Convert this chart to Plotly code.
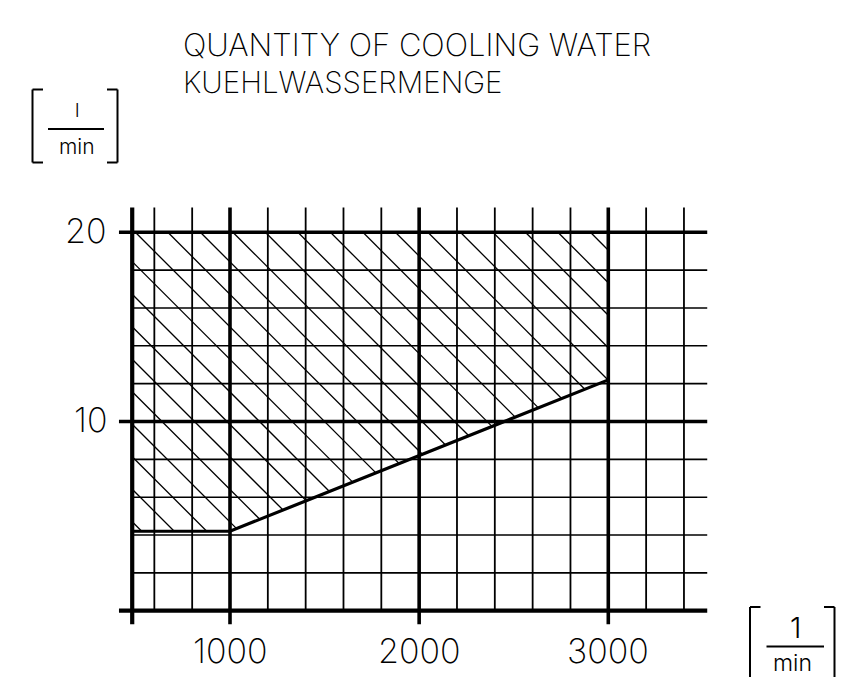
import plotly.graph_objects as go

# ---------------- data ----------------
title_lines = ["QUANTITY OF COOLING WATER", "KUEHLWASSERMENGE"]
y_unit = ["l", "min"]
x_unit = ["1", "min"]

x_major = [1000, 2000, 3000]
x_minor = [600, 800, 1200, 1400, 1600, 1800, 2200, 2400, 2600, 2800, 3200, 3400]
y_major = [0, 10, 20]
y_minor = [2, 4, 6, 8, 12, 14, 16, 18]

x_tick_vals = [1000, 2000, 3000]
x_tick_text = ["1000", "2000", "3000"]
y_tick_vals = [10, 20]
y_tick_text = ["10", "20"]

# boundary of the permissible (hatched) range
curve_x = [483, 1000, 3000]
curve_y = [4.2, 4.2, 12.2]
hatch_top = 20

# axis extents
x_axis_start = 483
grid_right = 3523
tick_left = 413
grid_top = 21.31
tick_bottom = -0.72

# ---------------- layout geometry ----------------
W, H = 861, 677
SX = (608.3 - 230.0) / 2000.0      # px per x unit
SY = (610.7 - 232.3) / 20.0        # px per y unit
X0 = 1000 - 230.0 / SX
X1 = X0 + W / SX
Y1 = 610.7 / SY
Y0 = Y1 - H / SY


def px2x(px):
    return X0 + px / SX


def py2y(py):
    return Y1 - py / SY


fig = go.Figure()


def add_segments(segs, width):
    xs, ys = [], []
    for (xa, ya), (xb, yb) in segs:
        xs += [xa, xb, None]
        ys += [ya, yb, None]
    fig.add_trace(go.Scatter(x=xs, y=ys, mode="lines",
                             line=dict(color="black", width=width),
                             hoverinfo="skip", showlegend=False))


# ---------------- hatching ----------------
poly = [(curve_x[0], curve_y[0]), (curve_x[1], curve_y[1]), (curve_x[2], curve_y[2]),
        (curve_x[2], hatch_top), (curve_x[0], hatch_top)]
m = -SX / SY  # 45 degrees on screen
hatch_segs = []
for k in range(-4, 26):
    c = 8.14 + k * 1.718

    def f(p):
        return p[1] - m * (p[0] - x_axis_start) - c

    pts = []
    for i in range(len(poly)):
        p, q = poly[i], poly[(i + 1) % len(poly)]
        fp, fq = f(p), f(q)
        if fp == fq:
            continue
        t = fp / (fp - fq)
        if 0 <= t <= 1:
            pts.append(p[0] + t * (q[0] - p[0]))
    if len(pts) >= 2:
        xa, xb = min(pts), max(pts)
        if xb - xa > 1e-6:
            ya = c + m * (xa - x_axis_start)
            yb = c + m * (xb - x_axis_start)
            hatch_segs.append(((xa, ya), (xb, yb)))
add_segments(hatch_segs, 1.3)

# ---------------- grid ----------------
add_segments([((x, 0), (x, grid_top)) for x in x_minor], 1.8)
add_segments([((x_axis_start, y), (grid_right, y)) for y in y_minor], 1.6)
add_segments([((x, tick_bottom), (x, grid_top)) for x in x_major], 3.6)
add_segments([((tick_left, y), (grid_right, y)) for y in y_major if y != 0], 3.4)
add_segments([((tick_left, 0), (grid_right, 0))], 4.2)
add_segments([((x_axis_start, tick_bottom), (x_axis_start, grid_top))], 4.2)

# ---------------- curve ----------------
fig.add_trace(go.Scatter(x=curve_x, y=curve_y, mode="lines",
                         line=dict(color="black", width=3.2),
                         hoverinfo="skip", showlegend=False))

# ---------------- text ----------------
FONT = "Inter, Roboto, Liberation Sans, sans-serif"
ann = []
digit_font = dict(family=FONT, size=34, color="black", weight=200)
for v, t in zip(x_tick_vals, x_tick_text):
    ann.append(dict(x=v, y=0, text=t, showarrow=False, xanchor="center",
                    yanchor="middle", yshift=-40, font=digit_font))
for v, t in zip(y_tick_vals, y_tick_text):
    ann.append(dict(x=tick_left, y=v, text=t, showarrow=False, xanchor="right",
                    yanchor="middle", xshift=-10, yshift=2, font=digit_font))

ann.append(dict(x=px2x(181), y=py2y(44), text=title_lines[0], showarrow=False,
                xanchor="left", yanchor="middle",
                font=dict(family=FONT, size=31, color="black", weight=200)))
ann.append(dict(x=px2x(181), y=py2y(82), text=title_lines[1], showarrow=False,
                xanchor="left", yanchor="middle",
                font=dict(family=FONT, size=29.5, color="black", weight=200)))

unit_font = dict(family=FONT, color="black", weight=300)
ann.append(dict(x=px2x(77), y=py2y(110), text=y_unit[0], showarrow=False,
                xanchor="center", yanchor="middle", font=dict(unit_font, size=19)))
ann.append(dict(x=px2x(77), y=py2y(146), text=y_unit[1], showarrow=False,
                xanchor="center", yanchor="middle", font=dict(unit_font, size=21)))
ann.append(dict(x=px2x(795), y=py2y(627), text=x_unit[0], showarrow=False,
                xanchor="center", yanchor="middle", font=dict(unit_font, size=29)))
ann.append(dict(x=px2x(792), y=py2y(663), text=x_unit[1], showarrow=False,
                xanchor="center", yanchor="middle", font=dict(unit_font, size=23)))

# brackets and fraction bars
def seg_shape(xa, ya, xb, yb, w=2):
    return dict(type="line", xref="x", yref="y", x0=px2x(xa), y0=py2y(ya),
                x1=px2x(xb), y1=py2y(yb), line=dict(color="black", width=w))


shapes = []
# left unit [ l / min ]
shapes += [seg_shape(32.5, 89.5, 32.5, 162.5), seg_shape(32.5, 89.5, 43, 89.5),
           seg_shape(32.5, 162.5, 43, 162.5),
           seg_shape(117.5, 89.5, 117.5, 162.5), seg_shape(107, 89.5, 117.5, 89.5),
           seg_shape(107, 162.5, 117.5, 162.5),
           seg_shape(48, 129, 104, 129)]
# right unit [ 1 / min ]
shapes += [seg_shape(750, 607, 750, 680), seg_shape(750, 607, 760.5, 607),
           seg_shape(834.5, 607, 834.5, 680), seg_shape(824, 607, 834.5, 607),
           seg_shape(766.5, 646.5, 824, 646.5)]

fig.update_layout(
    width=W, height=H, autosize=False,
    margin=dict(l=0, r=0, t=0, b=0, pad=0),
    paper_bgcolor="white", plot_bgcolor="white",
    xaxis=dict(range=[X0, X1], visible=False, fixedrange=True),
    yaxis=dict(range=[Y0, Y1], visible=False, fixedrange=True),
    annotations=ann, shapes=shapes,
)

fig.write_html("out.html", config={"displayModeBar": False},
               post_script="document.body.style.margin='0px';")
